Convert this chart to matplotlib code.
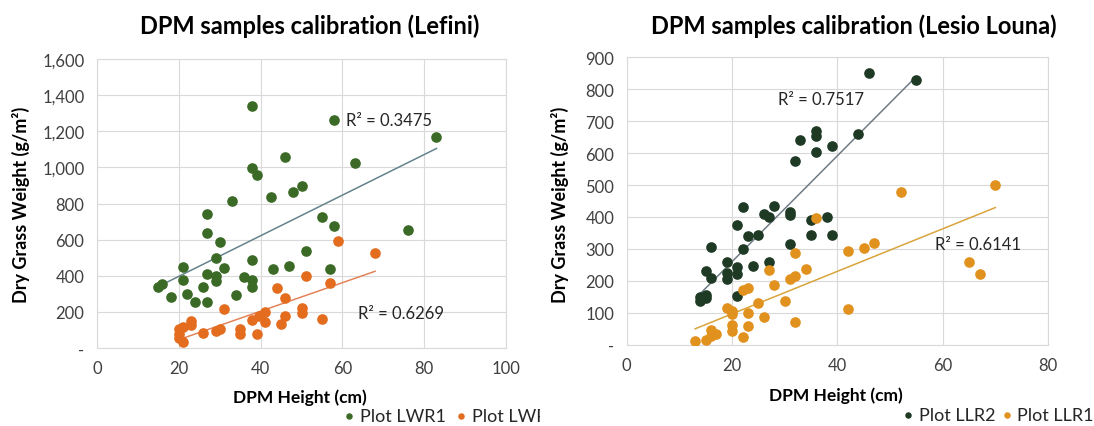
import numpy as np
import matplotlib.pyplot as plt
from matplotlib.ticker import FuncFormatter, MultipleLocator
from matplotlib.patches import Rectangle

plt.rcParams['font.family'] = ['Lato', 'DejaVu Sans']

# Lefini plots: DPM height (cm) vs dry grass weight (g/m2)
lwr1_height = [38, 58, 83, 46, 63, 38, 39, 50, 48, 42.5, 33, 27, 55, 58, 76,
               27, 30, 51, 29, 38, 21, 47, 57, 43, 31, 27, 29, 36, 38, 29,
               21, 16, 15, 26, 38, 18, 22, 34, 24, 27]
lwr1_weight = [1340, 1265, 1170, 1055, 1025, 995, 960, 895, 865, 835, 815, 740,
               725, 675, 655, 635, 585, 535, 500, 485, 450, 455, 440, 440, 445,
               410, 400, 395, 375, 370, 375, 355, 335, 335, 335, 280, 300, 295,
               255, 255]
lwr2_height = [59, 68, 51, 44, 57, 46, 31, 50, 50, 55, 46, 45, 41, 39.5, 41,
               38, 39, 35, 35, 30, 29, 26, 23, 23, 20, 20, 20, 21, 21]
lwr2_weight = [590, 525, 400, 330, 360, 275, 215, 220, 195, 160, 175, 135, 200,
               175, 145, 155, 80, 105, 75, 105, 95, 85, 150, 125, 105, 80, 55,
               35, 115]

# Lesio Louna plots
llr2_height = [46, 55, 44, 36, 36, 33, 39, 36, 32, 28, 22, 26, 27, 31, 31, 35,
               38, 21, 23, 25, 35, 39, 22, 16, 31, 19, 24, 27, 21, 21, 19, 19,
               15, 16, 21, 14, 15, 14, 15]
llr2_weight = [850, 828, 660, 670, 655, 642, 623, 603, 575, 435, 430, 410, 400,
               415, 407, 392, 400, 375, 340, 342, 345, 343, 300, 305, 315, 258,
               248, 258, 242, 220, 225, 206, 230, 210, 153, 150, 155, 136, 145]
llr1_height = [70, 52, 65, 67, 36, 42, 45, 47, 42, 32, 34, 27, 32, 31, 28, 23,
               22, 30, 25, 19, 20, 23, 20, 26, 32, 20, 23, 20, 16, 17, 16, 15,
               13, 22]
llr1_weight = [500, 477, 258, 220, 397, 293, 303, 318, 113, 287, 237, 235, 215,
               205, 187, 177, 172, 137, 130, 115, 105, 100, 95, 87, 72, 62, 60,
               42, 45, 33, 28, 15, 12, 25]

r2_lefini = ["R² = 0.3475", "R² = 0.6269"]
r2_lesio = ["R² = 0.7517", "R² = 0.6141"]

W, H = 1094, 427
fig = plt.figure(figsize=(W / 100, H / 100), dpi=100)
ax1 = fig.add_axes([97 / W, 1 - 349 / H, 409 / W, 289 / H])
ax2 = fig.add_axes([626.7 / W, 1 - 345.7 / H, 421.3 / W, 287.4 / H])

grid_c = "#d9d9d9"
tick_c = "#404040"
text_c = "#262626"


def excel_fmt(v, pos):
    # accounting style: zero shown as a dash
    if abs(v) < 1e-9:
        return "-"
    return f"{v:,.0f}"


def style(ax, xmax, ymax, ystep):
    ax.set_xlim(0, xmax)
    ax.set_ylim(0, ymax)
    ax.xaxis.set_major_locator(MultipleLocator(20))
    ax.yaxis.set_major_locator(MultipleLocator(ystep))
    ax.yaxis.set_major_formatter(FuncFormatter(excel_fmt))
    ax.grid(True, color=grid_c, linewidth=0.8, zorder=0)
    ax.set_axisbelow(True)
    for s in ax.spines.values():
        s.set_color(grid_c)
        s.set_linewidth(0.8)
    ax.tick_params(length=0, labelsize=12, labelcolor=tick_c, pad=9)


def trend(ax, x, y, color):
    x = np.asarray(x, float)
    y = np.asarray(y, float)
    m, b = np.polyfit(x, y, 1)
    xs = np.array([x.min(), x.max()])
    ax.plot(xs, m * xs + b, color=color, linewidth=1.1, zorder=3)


# Lefini
style(ax1, 100, 1600, 200)
ax1.scatter(lwr1_height, lwr1_weight, s=44, color="#3b6a26", zorder=4,
            label="Plot LWR1")
ax1.scatter(lwr2_height, lwr2_weight, s=44, color="#e36c1f", zorder=4,
            label="Plot LWR2")
trend(ax1, lwr1_height, lwr1_weight, "#64838c")
trend(ax1, lwr2_height, lwr2_weight, "#e2845a")
ax1.text(61, 1265, r2_lefini[0], fontsize=12, va="center", color=text_c)
ax1.text(63.8, 194, r2_lefini[1], fontsize=12, va="center", color=text_c)

# Lesio Louna
style(ax2, 80, 900, 100)
ax2.scatter(llr2_height, llr2_weight, s=44, color="#1f3a24", zorder=4,
            label="Plot LLR2")
ax2.scatter(llr1_height, llr1_weight, s=44, color="#e1911d", zorder=4,
            label="Plot LLR1")
trend(ax2, llr2_height, llr2_weight, "#6f7c86")
trend(ax2, llr1_height, llr1_weight, "#d8a53c")
ax2.text(28.8, 770, r2_lesio[0], fontsize=12, va="center", color=text_c)
ax2.text(58.5, 316, r2_lesio[1], fontsize=12, va="center", color=text_c)

# titles and axis labels
fig.text(310 / W, 1 - 26 / H, "DPM samples calibration (Lefini)",
         ha="center", va="center", fontsize=17, fontweight="bold")
fig.text(854 / W, 1 - 26 / H, "DPM samples calibration (Lesio Louna)",
         ha="center", va="center", fontsize=17, fontweight="bold")
for xc in (21, 560):
    fig.text(xc / W, 1 - 205 / H, "Dry Grass Weight (g/m²)", rotation=90,
             ha="center", va="center", fontsize=13, fontweight="bold")
fig.text(300 / W, 1 - 398 / H, "DPM Height (cm)", ha="center", va="center",
         fontsize=12.5, fontweight="bold")
fig.text(836 / W, 1 - 396 / H, "DPM Height (cm)", ha="center", va="center",
         fontsize=12.5, fontweight="bold")

# legends below each chart
leg_kw = dict(ncol=2, frameon=False, handletextpad=0.3, markerscale=0.55,
              borderpad=0, borderaxespad=0, handlelength=0.6,
              labelcolor=text_c, fontsize=13)
h1, l1 = ax1.get_legend_handles_labels()
fig.legend(h1, l1, loc="center left", bbox_to_anchor=(344 / W, 1 - 417 / H),
           columnspacing=0.55, **leg_kw)
h2, l2 = ax2.get_legend_handles_labels()
fig.legend(h2, l2, loc="center left", bbox_to_anchor=(903 / W, 1 - 416 / H),
           columnspacing=0.3, **leg_kw)

# left panel is cut off where the right panel starts
fig.patches.append(Rectangle((540 / W, 0), 80 / W, 27 / H, facecolor="white",
                             edgecolor="none", transform=fig.transFigure,
                             zorder=10))

fig.savefig("out.png", dpi=100)
